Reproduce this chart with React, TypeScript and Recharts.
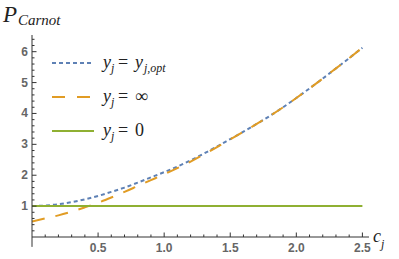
import React from "react";
import {
  Legend,
  Line,
  LineChart,
  ReferenceLine,
  XAxis,
  YAxis,
} from "recharts";

// values
const cValues = [
  0, 0.1, 0.2, 0.3, 0.4, 0.5, 0.6, 0.7, 0.8, 0.9, 1.0, 1.1, 1.2, 1.3, 1.4,
  1.5, 1.6, 1.7, 1.8, 1.9, 2.0, 2.1, 2.2, 2.3, 2.4, 2.5,
];
const pOpt = [
  1.0, 1.02, 1.06, 1.13, 1.22, 1.33, 1.46, 1.6, 1.76, 1.93, 2.1, 2.28, 2.48,
  2.7, 2.93, 3.17, 3.41, 3.66, 3.92, 4.2, 4.5, 4.81, 5.13, 5.46, 5.79, 6.13,
];
const pInf = [
  0.5, 0.6, 0.7, 0.82, 0.96, 1.11, 1.28, 1.46, 1.65, 1.84, 2.03, 2.23, 2.44,
  2.67, 2.91, 3.16, 3.41, 3.66, 3.92, 4.2, 4.5, 4.81, 5.13, 5.46, 5.79, 6.13,
];
const pZero = [
  1, 1, 1, 1, 1, 1, 1, 1, 1, 1, 1, 1, 1, 1, 1, 1, 1, 1, 1, 1, 1, 1, 1, 1, 1, 1,
];

const xTicks = [
  0.1, 0.2, 0.3, 0.4, 0.5, 0.6, 0.7, 0.8, 0.9, 1.0, 1.1, 1.2, 1.3, 1.4, 1.5,
  1.6, 1.7, 1.8, 1.9, 2.0, 2.1, 2.2, 2.3, 2.4, 2.5,
];
const xMajor = [0.5, 1.0, 1.5, 2.0, 2.5];
const yTicks = [
  0.2, 0.4, 0.6, 0.8, 1, 1.2, 1.4, 1.6, 1.8, 2, 2.2, 2.4, 2.6, 2.8, 3, 3.2,
  3.4, 3.6, 3.8, 4, 4.2, 4.4, 4.6, 4.8, 5, 5.2, 5.4, 5.6, 5.8, 6, 6.2, 6.4,
];
const yMajor = [1, 2, 3, 4, 5, 6];

const data = cValues.map((c, i) => ({
  c,
  opt: pOpt[i],
  inf: pInf[i],
  zero: pZero[i],
}));

const BLUE = "#5E81B5";
const ORANGE = "#E19C24";
const GREEN = "#8FB032";
const AXIS = "#333";
const tickStyle = {
  fontFamily: "'Liberation Sans', Arial, sans-serif",
  fontSize: 12,
  fontWeight: 700,
  fill: "#666",
};
const mathFont = "Liberation Serif";

const isMajor = (list: number[], v: number) =>
  list.some((m) => Math.abs(m - v) < 1e-6);

const XTick = (props: any) => {
  const { x, y, payload } = props;
  const major = isMajor(xMajor, payload.value);
  return (
    <g>
      <line x1={x} x2={x} y1={y} y2={y - (major ? 4.5 : 2.5)} stroke={AXIS} />
      {major && (
        <text x={x} y={y + 15} textAnchor="middle" style={tickStyle}>
          {payload.value.toFixed(1)}
        </text>
      )}
    </g>
  );
};

const YTick = (props: any) => {
  const { x, y, payload } = props;
  const major = isMajor(yMajor, payload.value);
  return (
    <g>
      <line x1={x} x2={x + (major ? 4.5 : 2.5)} y1={y} y2={y} stroke={AXIS} />
      {major && (
        <text x={x - 4} y={y + 4} textAnchor="end" style={tickStyle}>
          {payload.value}
        </text>
      )}
    </g>
  );
};

// one legend entry: y_j = rhs(sub)
const LegendRow = ({ y, color, dash, rhs, italicRhs, sub }: any) => (
  <g>
    <line x1={4} x2={46} y1={y} y2={y} stroke={color} strokeWidth={2} strokeDasharray={dash} />
    <text y={y + 5} fontFamily={mathFont} fill="#222" fontSize={18}>
      <tspan x={55} fontStyle="italic">y</tspan>
      <tspan x={63} dy={4} fontStyle="italic" fontSize={12}>j</tspan>
      <tspan x={70} dy={-4}>=</tspan>
      <tspan x={87} fontStyle={italicRhs ? "italic" : "normal"}>{rhs}</tspan>
      {sub && (
        <tspan x={96} dy={4} fontStyle="italic" fontSize={12}>{sub}</tspan>
      )}
    </text>
  </g>
);

const LegendBox = () => (
  <svg width={180} height={100} style={{ display: "block" }}>
    <LegendRow y={15} color={BLUE} dash="4 3" rhs="y" italicRhs sub="j,opt" />
    <LegendRow y={49} color={ORANGE} dash="13 12" rhs="∞" />
    <LegendRow y={83} color={GREEN} rhs="0" />
  </svg>
);

export default function App() {
  return (
    <div style={{ position: "absolute", left: 0, top: 0, background: "#fff" }}>
      <LineChart
        width={399}
        height={259}
        data={data}
        margin={{ top: 35, right: 30, left: 0, bottom: 0 }}
      >
        <XAxis
          dataKey="c"
          type="number"
          domain={[0, 2.55]}
          ticks={xTicks}
          interval={0}
          tickSize={0}
          tickMargin={0}
          tick={<XTick />}
          height={22}
          axisLine={{ stroke: AXIS }}
          allowDataOverflow
        />
        <YAxis
          type="number"
          domain={[0, 6.54]}
          ticks={yTicks}
          interval={0}
          tickSize={0}
          tickMargin={0}
          tick={<YTick />}
          width={32}
          axisLine={{ stroke: AXIS }}
          allowDataOverflow
        />
        <ReferenceLine
          segment={[
            { x: 0, y: 0 },
            { x: 0, y: -0.32 },
          ]}
          stroke={AXIS}
          ifOverflow="visible"
        />
        <Legend
          layout="horizontal"
          verticalAlign="middle"
          align="center"
          content={<LegendBox />}
          wrapperStyle={{ position: "absolute", left: 48, top: 48, width: 180, height: 100 }}
        />
        <Line
          type="monotone"
          dataKey="opt"
          stroke={BLUE}
          strokeWidth={2}
          strokeDasharray="4 3"
          dot={false}
          isAnimationActive={false}
        />
        <Line
          type="monotone"
          dataKey="inf"
          stroke={ORANGE}
          strokeWidth={2}
          strokeDasharray="13 11"
          dot={false}
          isAnimationActive={false}
        />
        <Line
          type="linear"
          dataKey="zero"
          stroke={GREEN}
          strokeWidth={2}
          dot={false}
          isAnimationActive={false}
        />
        <text y={22} fontFamily={mathFont} fill="#222" fontStyle="italic">
          <tspan x={3} fontSize={23}>P</tspan>
          <tspan x={18} dy={3} fontSize={15}>Carnot</tspan>
        </text>
        <text y={242} fontFamily={mathFont} fill="#222" fontStyle="italic">
          <tspan x={373} fontSize={18}>c</tspan>
          <tspan x={381} dy={6} fontSize={12}>j</tspan>
        </text>
      </LineChart>
    </div>
  );
}
